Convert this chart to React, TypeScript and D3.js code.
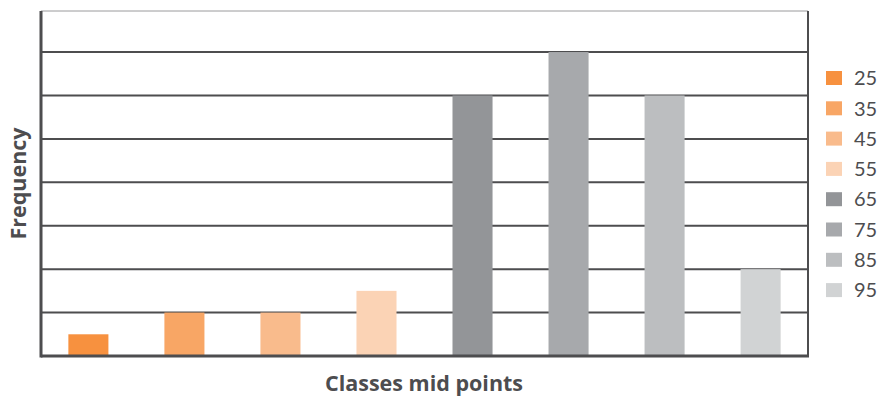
import { useEffect, useRef } from "react";
import * as d3 from "d3";

const classes = ["25", "35", "45", "55", "65", "75", "85", "95"];
const frequency = [1, 2, 2, 3, 12, 14, 12, 4];
const colors = ["#f7913f", "#f8a665", "#f9bb8c", "#fbd3b5", "#939598", "#a7a9ac", "#bcbec0", "#d1d3d4"];
const gridTicks = [2, 4, 6, 8, 10, 12, 14];

export default function App() {
  const svgRef = useRef<SVGSVGElement>(null);

  useEffect(() => {
    const svg = d3.select(svgRef.current);
    svg.selectAll("*").remove();

    const width = 882;
    const height = 398;
    const margin = { top: 11, right: 74, bottom: 42, left: 41 };
    const ink = "#4d4d4f";
    const font = "'Open Sans', Lato, sans-serif";

    const x = d3
      .scaleBand()
      .domain(classes)
      .range([margin.left, width - margin.right])
      .paddingInner(0.583)
      .paddingOuter(0.285);

    const y = d3
      .scaleLinear()
      .domain([0, 16])
      .range([height - margin.bottom, 8.6]);

    // grid
    svg
      .append("g")
      .selectAll("line")
      .data(gridTicks)
      .enter()
      .append("line")
      .attr("x1", margin.left)
      .attr("x2", width - margin.right)
      .attr("y1", (d) => y(d))
      .attr("y2", (d) => y(d))
      .attr("stroke", ink)
      .attr("stroke-width", 2);

    // top frame
    svg
      .append("line")
      .attr("x1", margin.left)
      .attr("x2", width - margin.right)
      .attr("y1", margin.top)
      .attr("y2", margin.top)
      .attr("stroke", "#9a9a9c")
      .attr("stroke-width", 1);

    // bars
    svg
      .append("g")
      .selectAll("rect")
      .data(frequency)
      .enter()
      .append("rect")
      .attr("x", (_, i) => x(classes[i]) as number)
      .attr("y", (d) => y(d))
      .attr("width", x.bandwidth())
      .attr("height", (d) => y(0) - y(d))
      .attr("fill", (_, i) => colors[i]);

    // right frame
    svg
      .append("line")
      .attr("x1", width - margin.right)
      .attr("x2", width - margin.right)
      .attr("y1", margin.top)
      .attr("y2", y(0))
      .attr("stroke", ink)
      .attr("stroke-width", 2);

    // axes
    svg
      .append("line")
      .attr("x1", margin.left)
      .attr("x2", margin.left)
      .attr("y1", margin.top)
      .attr("y2", y(0) + 1.5)
      .attr("stroke", ink)
      .attr("stroke-width", 3);

    svg
      .append("line")
      .attr("x1", margin.left)
      .attr("x2", width - margin.right + 1)
      .attr("y1", y(0))
      .attr("y2", y(0))
      .attr("stroke", ink)
      .attr("stroke-width", 3);

    // legend
    const legend = svg
      .append("g")
      .selectAll("g")
      .data(classes)
      .enter()
      .append("g")
      .attr("transform", (_, i) => `translate(826,${78 + i * 30.3})`);

    legend
      .append("rect")
      .attr("x", 0)
      .attr("y", -7)
      .attr("width", 16)
      .attr("height", 14)
      .attr("fill", (_, i) => colors[i]);

    legend
      .append("text")
      .attr("x", 28)
      .attr("y", 0)
      .attr("dy", "0.36em")
      .attr("fill", ink)
      .style("font-family", "Lato, sans-serif")
      .style("font-size", "20px")
      .text((d) => d);

    // titles
    svg
      .append("text")
      .attr("x", 424)
      .attr("y", 383)
      .attr("dy", "0.36em")
      .attr("text-anchor", "middle")
      .attr("fill", ink)
      .style("font-family", font)
      .style("font-weight", "bold")
      .style("font-size", "21.5px")
      .text("Classes mid points");

    svg
      .append("text")
      .attr("transform", `translate(18,${(margin.top + y(0)) / 2}) rotate(-90)`)
      .attr("dy", "0.36em")
      .attr("text-anchor", "middle")
      .attr("fill", ink)
      .style("font-family", font)
      .style("font-weight", "bold")
      .style("font-size", "21.5px")
      .text("Frequency");
  }, []);

  return (
    <svg
      ref={svgRef}
      width={882}
      height={398}
      style={{ position: "absolute", left: 0, top: 0, background: "#fff" }}
    />
  );
}
